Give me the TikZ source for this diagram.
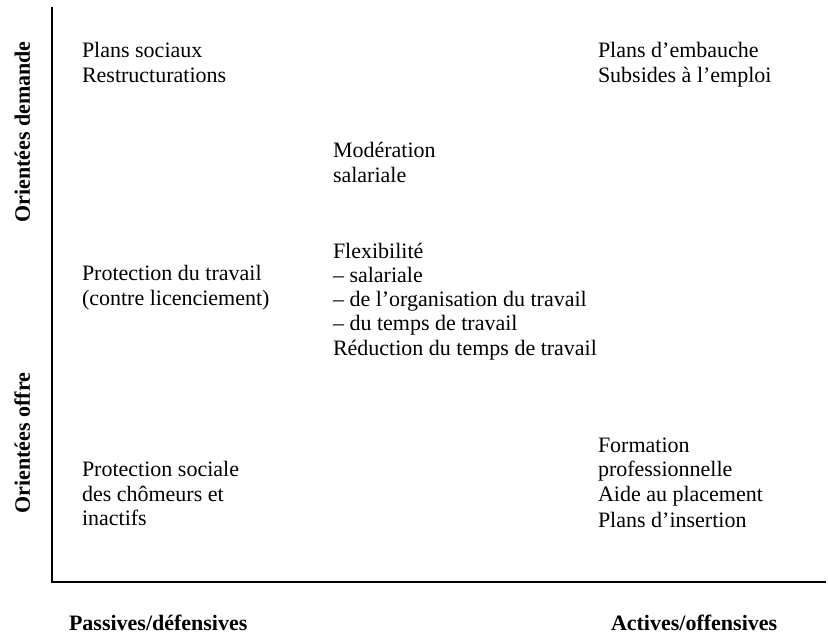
\documentclass[tikz,border=0pt]{standalone}
\usepackage{fontspec}
\setmainfont{Liberation Serif}
\begin{document}
\begin{tikzpicture}[x=1pt,y=-1pt,
  txt/.style={inner sep=0pt,outer sep=0pt,anchor=base west,font=\fontsize{22}{26}\selectfont},
  btxt/.style={inner sep=0pt,outer sep=0pt,anchor=base west,font=\fontsize{22}{26}\selectfont\bfseries},
  rtxt/.style={inner sep=0pt,outer sep=0pt,anchor=base,rotate=90,font=\fontsize{22}{26}\selectfont\bfseries},
  axis/.style={line width=1.5pt,black}]
\useasboundingbox (0,0) rectangle (828,635);
% axes
\coordinate (top) at (52,7);
\coordinate (origin) at (52,582);
\coordinate (right) at (826,582);
\draw[axis] (top) -- (origin) -- (right);
% axis labels
\node[rtxt] (dem) at (30,132) {Orientées demande};
\node[rtxt] (off) at (30,443) {Orientées offre};
\node[btxt] (pas) at (69,630) {Passives/défensives};
\node[btxt] (act) at (611,630) {Actives/offensives};
% top left
\node[txt] (a1) at (82,57) {Plans sociaux};
\node[txt] (a2) at (82,82) {Restructurations};
% top right
\node[txt] (b1) at (598,57) {Plans d’embauche};
\node[txt] (b2) at (598,82) {Subsides à l’emploi};
% centre
\node[txt] (c1) at (333,157) {Modération};
\node[txt] (c2) at (333,182) {salariale};
\node[txt] (d1) at (333,258) {Flexibilité};
\node[txt] (d2) at (333,282) {– salariale};
\node[txt] (d3) at (333,306) {– de l’organisation du travail};
\node[txt] (d4) at (333,330) {– du temps de travail};
\node[txt] (d5) at (333,355) {Réduction du temps de travail};
% middle left
\node[txt] (e1) at (82,280) {Protection du travail};
\node[txt] (e2) at (82,305) {(contre licenciement)};
% bottom left
\node[txt] (f1) at (82,476) {Protection sociale};
\node[txt] (f2) at (82,501) {des chômeurs et};
\node[txt] (f3) at (82,525) {inactifs};
% bottom right
\node[txt] (g1) at (598,452) {Formation};
\node[txt] (g2) at (598,476) {professionnelle};
\node[txt] (g3) at (598,501) {Aide au placement};
\node[txt] (g4) at (598,527) {Plans d’insertion};
\end{tikzpicture}
\end{document}
